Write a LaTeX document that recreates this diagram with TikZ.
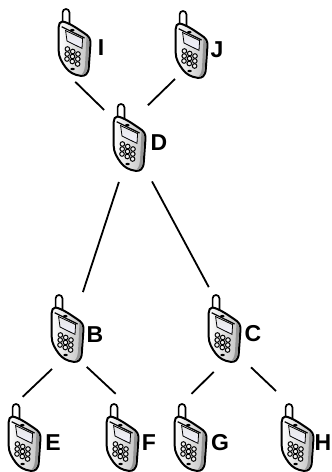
\documentclass[tikz,border=0pt]{standalone}
\usepackage{fontspec}
\setmainfont{Liberation Sans}
\tikzset{
    phonebox/.style={rectangle, minimum width=32pt, minimum height=70pt, inner sep=0pt, outer sep=0pt},
    devname/.style={font=\fontsize{23}{23}\selectfont\bfseries, inner sep=0pt},
    link/.style={line width=1.8pt},
    phone/.pic={
        % antenna
        \draw[line width=1.7pt, fill=white] (-11.4,-18) -- (-11.4,-29.6) arc[start angle=180, end angle=0, x radius=3.4, y radius=-3.4] -- (-4.6,-17);
        % body
        \draw[line width=2pt, line join=round, left color=white, right color=black!25] (-11.5,-20.5)
            .. controls (-5,-19.5) and (4,-13) .. (10,-9)
            .. controls (15,-6) and (16.5,-3) .. (16.5,1)
            -- (14.8,25)
            .. controls (14.4,32) and (11,34.5) .. (6.5,33.8)
            .. controls (0,33) and (-5,30) .. (-8.3,25.5)
            .. controls (-12,20.5) and (-15.3,15) .. (-15.3,9)
            -- (-15.3,-15)
            .. controls (-15.3,-18) and (-14,-20.5) .. (-11.5,-20.5) -- cycle;
        % side of the case
        \fill[black!42] (12.5,-5) .. controls (14.8,-3) and (15.4,-1) .. (15.3,1) -- (13.6,25) .. controls (13.3,30) and (11,32.6) .. (7.5,32.8) .. controls (10,30) and (10.8,27) .. (11,24) -- cycle;
        % screen
        \draw[line width=0.8pt, top color=black!10, bottom color=blue!5] (-8.4,-11.4) -- (8.6,-3.4) -- (8,6.4) -- (-7,-1) -- cycle;
        \draw[line width=1.2pt] (-12.3,-15.3) -- (10.5,-4);
        \fill (-1.7,-11.8) ellipse[x radius=2.2, y radius=1.3];
        % keypad
        \foreach \row in {0,1,2}
            \foreach \col in {0,1,2}
                \draw[line width=1pt, fill=black!6] (-6.6+5.3*\col-0.2*\row,7+2.5*\col+5*\row) circle[radius=2.3];
        % bottom key
        \fill (-1.4,27) ellipse[x radius=2.2, y radius=1.2];
    }
}
\begin{document}
\begin{tikzpicture}[x=1pt, y=-1pt]
    \useasboundingbox (0,0) rectangle (332,472);

    % Top row
    \node[phonebox] (I) at (74,42) {}; \pic at (I) {phone};
    \node[phonebox] (J) at (191,44) {}; \pic at (J) {phone};
    \node[devname] (Iname) at (101,48) {I};
    \node[devname] (Jname) at (217,50) {J};

    % Middle
    \node[phonebox] (D) at (129,137) {}; \pic at (D) {phone};
    \node[devname] (Dname) at (159,142.5) {D};

    % Second level
    \node[phonebox] (B) at (67,328) {}; \pic at (B) {phone};
    \node[phonebox] (C) at (224,328) {}; \pic at (C) {phone};
    \node[devname] (Bname) at (95,335) {B};
    \node[devname] (Cname) at (253,334) {C};

    % Bottom row
    \node[phonebox] (E) at (24,437) {}; \pic at (E) {phone};
    \node[phonebox] (F) at (122,437) {}; \pic at (F) {phone};
    \node[phonebox] (G) at (190,437) {}; \pic at (G) {phone};
    \node[phonebox] (H) at (297,437) {}; \pic at (H) {phone};
    \node[devname] (Ename) at (53,443) {E};
    \node[devname] (Fname) at (149,443) {F};
    \node[devname] (Gname) at (220,443) {G};
    \node[devname] (Hname) at (323,443) {H};

    % Connections
    \draw[link, shorten <=7pt, shorten >=12.4pt] (I.-96) -- (D.131);
    \draw[link, shorten >=4pt] (J.south west) -- (D.61);
    \draw[link, shorten <=10.5pt, shorten >=1pt] (D.-101) -- (B.66);
    \draw[link, shorten <=14.8pt, shorten >=6.7pt] (D.-63) -- (C.109);
    \draw[link, shorten <=8.6pt, shorten >=7.5pt] (B.-104) -- (E.101);
    \draw[link, shorten <=5.7pt, shorten >=12pt] (B.-66) -- (F.86);
    \draw[link, shorten <=12.7pt, shorten >=11.7pt] (C.-92) -- (G.101);
    \draw[link, shorten <=15.2pt, shorten >=16pt] (C.-61) -- (H.105);
\end{tikzpicture}
\end{document}
